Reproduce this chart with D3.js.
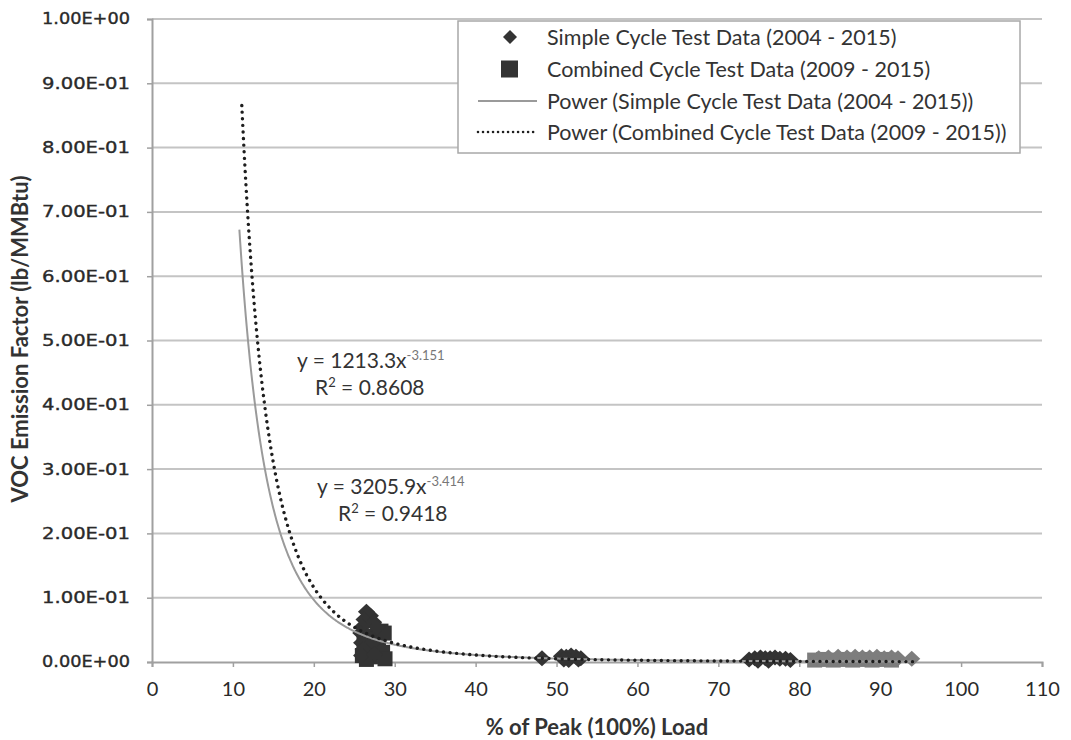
<!DOCTYPE html>
<html>
<head>
<meta charset="utf-8">
<script src="https://cdn.jsdelivr.net/npm/d3@7.9.0/dist/d3.min.js"></script>
<style>
  body { margin: 0; background: #fff; }
  svg { display: block; }
  .ylab text { font-family: "DejaVu Sans", Verdana, sans-serif; font-size: 15.5px; fill: #2a2a2a; }
</style>
</head>
<body>
<svg id="chart" width="1071" height="740"></svg>
<script>
// Simple cycle test data (% load, lb/MMBtu)
const simpleX = [26.5, 27.0, 26.2, 27.4, 26.0, 27.8, 25.8, 26.6, 25.9, 27.2, 26.1, 25.9, 27.5,
  48.2, 50.6, 51.2, 51.8, 52.4, 53.0, 51.5, 52.7, 50.9,
  73.8, 74.5, 75.2, 75.8, 76.4, 77.0, 77.6, 78.3, 78.9, 74.9, 76.2,
  82.4, 83.6, 84.8, 85.9, 86.9, 87.8, 88.7, 89.6, 90.5, 91.4, 92.2, 93.9];
const simpleY = [0.078, 0.072, 0.066, 0.062, 0.055, 0.054, 0.045, 0.040, 0.030, 0.030, 0.020, 0.010, 0.012,
  0.006, 0.009, 0.008, 0.010, 0.008, 0.006, 0.003, 0.004, 0.004,
  0.004, 0.006, 0.007, 0.006, 0.006, 0.007, 0.005, 0.005, 0.003, 0.002, 0.002,
  0.006, 0.007, 0.008, 0.007, 0.008, 0.007, 0.007, 0.008, 0.006, 0.007, 0.006, 0.005];

// Combined cycle test data
const combinedX = [26.2, 26.8, 27.3, 27.8, 28.3, 28.7, 28.0, 28.5, 26.0, 27.0, 28.8, 26.5,
  81.9, 83.0, 84.2, 85.4, 86.6, 87.8, 89.0, 90.2, 91.4];
const combinedY = [0.030, 0.025, 0.040, 0.035, 0.048, 0.045, 0.020, 0.015, 0.010, 0.008, 0.005, 0.004,
  0.003, 0.004, 0.003, 0.004, 0.003, 0.004, 0.003, 0.004, 0.003];

// Power trendlines y = a * x^b, shown over [from, to]
const simpleFit = [1213.3, -3.151];
const combinedFit = [3205.9, -3.414];
const simpleFitRange = [10.8, 94];
const combinedFitRange = [11.1, 94];

const xTicks = [0, 10, 20, 30, 40, 50, 60, 70, 80, 90, 100, 110];
const yTicks = [0, 0.1, 0.2, 0.3, 0.4, 0.5, 0.6, 0.7, 0.8, 0.9, 1.0];

const legendLabels = [
  "Simple Cycle Test Data (2004 - 2015)",
  "Combined Cycle Test Data (2009 - 2015)",
  "Power (Simple Cycle Test Data (2004 - 2015))",
  "Power (Combined Cycle Test Data (2009 - 2015))"
];

const svg = d3.select("#chart");
const x = d3.scaleLinear().domain([0, 110]).range([152, 1042]);
const y = d3.scaleLinear().domain([0, 1]).range([662, 19]);

// Excel-like scientific label
function sci(v) {
  if (v === 0) return "0.00E+00";
  const e = Math.floor(Math.log10(v) + 1e-9);
  const m = v / Math.pow(10, e);
  return m.toFixed(2) + "E" + (e < 0 ? "-" : "+") + String(Math.abs(e)).padStart(2, "0");
}

// gridlines
svg.append("g")
  .selectAll("line")
  .data(yTicks.filter(d => d > 0))
  .join("line")
  .attr("x1", x(0)).attr("x2", x(110))
  .attr("y1", d => y(d)).attr("y2", d => y(d))
  .attr("stroke", "#c4c4c4").attr("stroke-width", 2);

// y axis
const yAxis = svg.append("g")
  .attr("class", "ylab")
  .attr("transform", `translate(${x(0)},0)`)
  .call(d3.axisLeft(y).tickValues(yTicks).tickFormat(sci).tickSize(5).tickPadding(17));
yAxis.attr("font-family", null).attr("font-size", null);
yAxis.select(".domain").attr("stroke", "#a0a0a0").attr("stroke-width", 2);
yAxis.selectAll(".tick line").attr("stroke", "#a0a0a0").attr("stroke-width", 1.5);
yAxis.selectAll("text")
  .attr("textLength", 88).attr("lengthAdjust", "spacingAndGlyphs")
  .attr("stroke", "#2a2a2a").attr("stroke-width", 0.35);

// x axis
const xAxis = svg.append("g")
  .attr("transform", `translate(0,${y(0)})`)
  .call(d3.axisBottom(x).tickValues(xTicks).tickSize(5).tickPadding(15));
xAxis.select(".domain").attr("stroke", "#a0a0a0").attr("stroke-width", 2);
xAxis.selectAll(".tick line").attr("stroke", "#a0a0a0").attr("stroke-width", 1.5);
xAxis.selectAll("text")
  .attr("font-family", "Lato").attr("font-size", 20).attr("fill", "#2a2a2a");

// markers
const diamond = (cx, cy) => `M${cx},${cy - 8}L${cx + 8.5},${cy}L${cx},${cy + 8}L${cx - 8.5},${cy}Z`;
const colorFor = v => v > 80 ? "#7d7d7d" : "#333";

const simple = simpleX.map((v, i) => ({ x: v, y: simpleY[i] }));
const combined = combinedX.map((v, i) => ({ x: v, y: combinedY[i] }));

svg.append("g")
  .selectAll("rect")
  .data(combined)
  .join("rect")
  .attr("x", d => x(d.x) - 7.5).attr("y", d => y(d.y) - 7.5)
  .attr("width", 15).attr("height", 15)
  .attr("fill", d => colorFor(d.x));

svg.append("g")
  .selectAll("path")
  .data(simple)
  .join("path")
  .attr("d", d => diamond(x(d.x), y(d.y)))
  .attr("fill", d => colorFor(d.x));

// trendlines
function fitPoints(fit, range) {
  const pts = [];
  for (let v = range[0]; v <= range[1]; v += 0.1) pts.push([v, fit[0] * Math.pow(v, fit[1])]);
  return pts;
}
const line = d3.line().x(d => x(d[0])).y(d => y(d[1]));

svg.append("path")
  .attr("d", line(fitPoints(simpleFit, simpleFitRange)))
  .attr("fill", "none").attr("stroke", "#9a9a9a").attr("stroke-width", 2);

svg.append("path")
  .attr("d", line(fitPoints(combinedFit, combinedFitRange)))
  .attr("fill", "none").attr("stroke", "#1e1e1e").attr("stroke-width", 3.4)
  .attr("stroke-linecap", "round").attr("stroke-dasharray", "0.01 6.6");

// equations
function equation(xp, yp, a, b, r2, rx) {
  const t = svg.append("text")
    .attr("x", xp).attr("y", yp)
    .attr("font-family", "Lato").attr("font-size", 21).attr("fill", "#333");
  t.append("tspan").text(`y = ${a}x`);
  t.append("tspan").attr("dy", -8).attr("font-size", 13).attr("fill", "#777").text(b);
  const r = svg.append("text")
    .attr("x", rx).attr("y", yp + 27)
    .attr("font-family", "Lato").attr("font-size", 21).attr("fill", "#333");
  r.append("tspan").text("R");
  r.append("tspan").attr("dy", -8).attr("font-size", 13).text("2");
  r.append("tspan").attr("dy", 8).text(` = ${r2}`);
}
equation(297, 368, "1213.3", "-3.151", "0.8608", 315);
equation(317, 494, "3205.9", "-3.414", "0.9418", 338);

// legend
const lg = svg.append("g");
lg.append("rect")
  .attr("x", 458).attr("y", 21).attr("width", 562).attr("height", 132)
  .attr("fill", "#fff").attr("stroke", "#a8a8a8").attr("stroke-width", 1.5);
const rowY = [37, 69, 101, 132];
legendLabels.forEach((label, i) => {
  lg.append("text")
    .attr("x", 547).attr("y", rowY[i]).attr("dy", "0.35em")
    .attr("font-family", "Lato").attr("font-size", 21.5).attr("fill", "#333")
    .text(label);
});
lg.append("path").attr("d", `M510,${rowY[0] - 7}L517,${rowY[0]}L510,${rowY[0] + 7}L503,${rowY[0]}Z`).attr("fill", "#333");
lg.append("rect").attr("x", 501).attr("y", rowY[1] - 8.5).attr("width", 17).attr("height", 17).attr("fill", "#333");
lg.append("line").attr("x1", 478).attr("x2", 537).attr("y1", rowY[2]).attr("y2", rowY[2])
  .attr("stroke", "#9a9a9a").attr("stroke-width", 2);
lg.append("line").attr("x1", 478).attr("x2", 537).attr("y1", rowY[3]).attr("y2", rowY[3])
  .attr("stroke", "#1e1e1e").attr("stroke-width", 2.6).attr("stroke-linecap", "round")
  .attr("stroke-dasharray", "0.01 5");

// axis titles
svg.append("text")
  .attr("x", 597).attr("y", 727).attr("dy", "0.35em").attr("text-anchor", "middle")
  .attr("font-family", "Lato").attr("font-weight", "bold").attr("font-size", 22).attr("fill", "#333")
  .text("% of Peak (100%) Load");
svg.append("text")
  .attr("transform", "translate(20,339) rotate(-90)")
  .attr("dy", "0.35em").attr("text-anchor", "middle")
  .attr("font-family", "Lato").attr("font-weight", "bold").attr("font-size", 22).attr("fill", "#333")
  .text("VOC Emission Factor (lb/MMBtu)");
</script>
</body>
</html>
